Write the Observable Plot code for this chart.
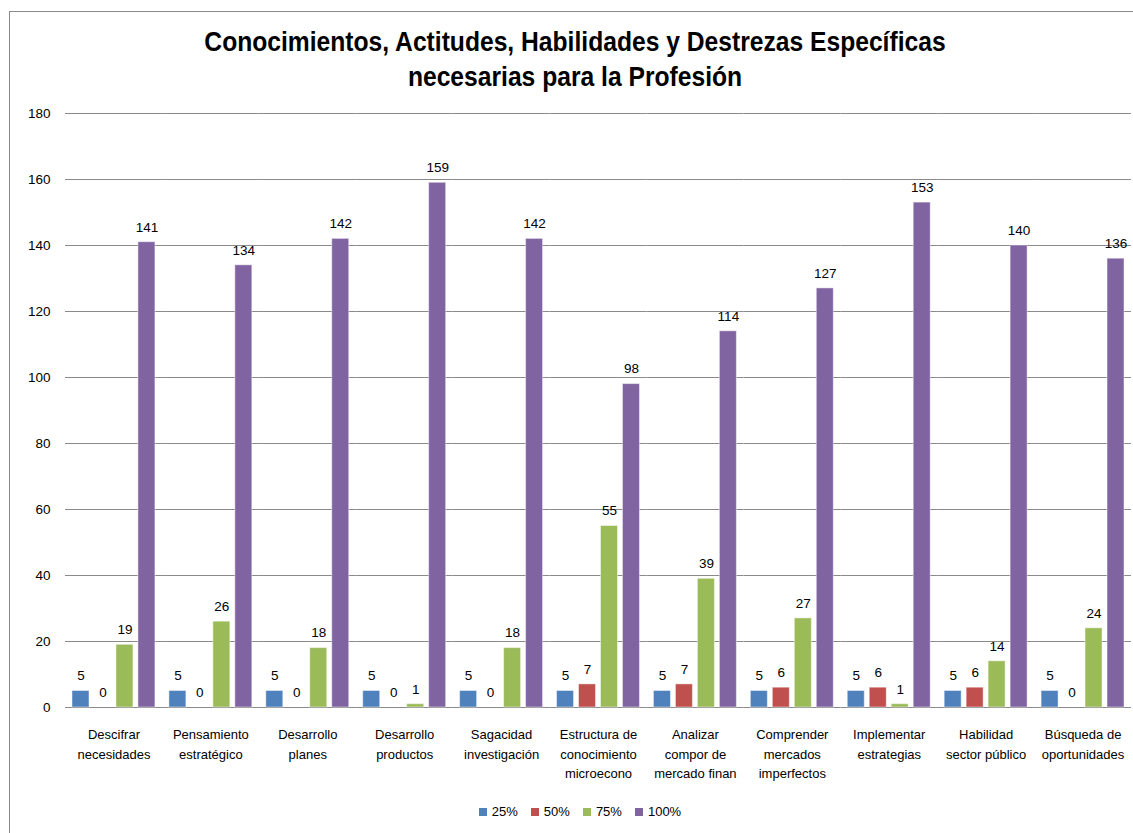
<!DOCTYPE html>
<html>
<head>
<meta charset="utf-8">
<script src="https://cdn.jsdelivr.net/npm/d3@7"></script>
<script src="https://cdn.jsdelivr.net/npm/@observablehq/plot@0.6"></script>
<style>
  html, body { margin: 0; padding: 0; background: #fff; overflow: hidden; }
  body { width: 1133px; height: 833px; position: relative; font-family: "Liberation Sans", Arial, sans-serif; }
  #frame { position: absolute; left: 9px; top: 11px; width: 1140px; height: 840px; border: 1px solid #8a8a8a; box-sizing: border-box; }
  #title { position: absolute; left: 9px; width: 1132px; top: 24px; text-align: center; font-weight: bold; font-size: 28px; line-height: 35px; color: #000; transform: scaleX(0.88); transform-origin: 566px 0; }
  #chart { position: absolute; left: 0; top: 0; }
  #legend { position: absolute; left: 0; width: 1160px; top: 804px; display: flex; justify-content: center; gap: 13px; font-size: 13px; color: #000; }
  .item { display: flex; align-items: center; gap: 5px; }
  .sw { width: 8px; height: 8px; display: inline-block; }
</style>
</head>
<body>
<div id="frame"></div>
<div id="title">Conocimientos, Actitudes, Habilidades y Destrezas Específicas<br>necesarias para la Profesión</div>
<div id="chart"></div>
<div id="legend"></div>
<script>
const categories = [
  "Descifrar\nnecesidades",
  "Pensamiento\nestratégico",
  "Desarrollo\nplanes",
  "Desarrollo\nproductos",
  "Sagacidad\ninvestigación",
  "Estructura de\nconocimiento\nmicroecono",
  "Analizar\ncompor de\nmercado finan",
  "Comprender\nmercados\nimperfectos",
  "Implementar\nestrategias",
  "Habilidad\nsector público",
  "Búsqueda de\noportunidades"
];
const series = ["25%", "50%", "75%", "100%"];
const colors = ["#4F81BD", "#C0504D", "#9BBB59", "#8064A2"];
const values25 = [5, 5, 5, 5, 5, 5, 5, 5, 5, 5, 5];
const values50 = [0, 0, 0, 0, 0, 7, 7, 6, 6, 6, 0];
const values75 = [19, 26, 18, 1, 18, 55, 39, 27, 1, 14, 24];
const values100 = [141, 134, 142, 159, 142, 98, 114, 127, 153, 140, 136];
const yTicks = [0, 20, 40, 60, 80, 100, 120, 140, 160, 180];

const FONT = '"Liberation Sans", Arial, sans-serif';
const allValues = [values25, values50, values75, values100];
const data = [];
categories.forEach((c, i) => {
  series.forEach((s, j) => data.push({cat: c, series: s, value: allValues[j][i]}));
});

const chart = Plot.plot({
  width: 1133,
  height: 800,
  marginTop: 113,
  marginBottom: 93,
  marginLeft: 65,
  marginRight: 2,
  style: {fontFamily: FONT, fontSize: "13px", color: "#000", background: "transparent"},
  fx: {domain: categories, padding: 0, round: false, label: null, axis: null},
  x: {domain: series, paddingInner: 0.227, paddingOuter: 0.318, round: false, axis: null},
  y: {domain: [0, 180], label: null, axis: null},
  color: {domain: series, range: colors},
  marks: [
    Plot.ruleY(yTicks, {stroke: "#8a8a8a", strokeWidth: 1}),
    Plot.barY(data, {fx: "cat", x: "series", y: "value", fill: "series", stroke: "#ffffff", strokeOpacity: 0.45, strokeWidth: 1}),
    Plot.text(data, {fx: "cat", x: "series", y: "value", text: d => String(d.value), dy: -15, fontSize: 13.5, fill: "#000"}),
    Plot.axisY({ticks: yTicks, tickSize: 0, tickPadding: 15, label: null, fontSize: 13.5}),
    Plot.axisFx({anchor: "bottom", tickSize: 0, tickPadding: 18, label: null, lineHeight: 1.5, fontSize: 13, tickFormat: d => d})
  ]
});
document.getElementById("chart").appendChild(chart);

const legend = document.getElementById("legend");
series.forEach((s, j) => {
  const it = document.createElement("div");
  it.className = "item";
  const sw = document.createElement("span");
  sw.className = "sw";
  sw.style.background = colors[j];
  const lb = document.createElement("span");
  lb.textContent = s;
  it.appendChild(sw);
  it.appendChild(lb);
  legend.appendChild(it);
});
</script>
</body>
</html>
